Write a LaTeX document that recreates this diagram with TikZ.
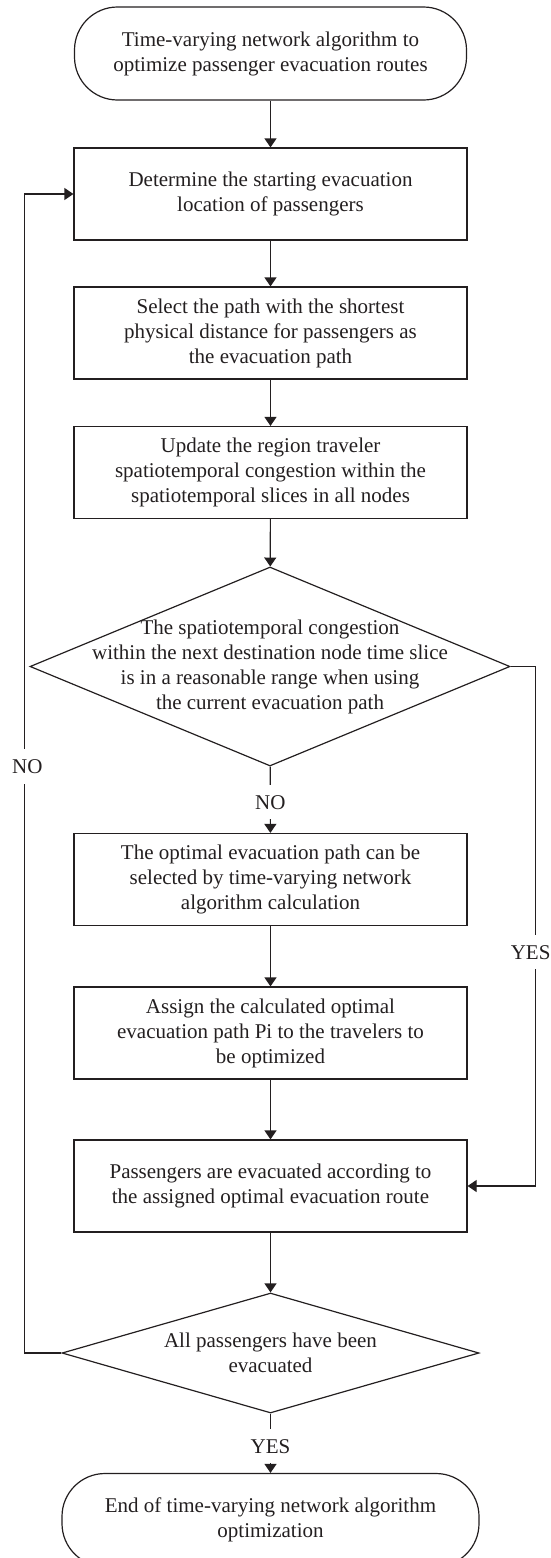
\documentclass[tikz,border=0pt]{standalone}
\usepackage{fontspec}
\setmainfont{Liberation Serif}
\usetikzlibrary{shapes.geometric,arrows.meta}
\definecolor{ink}{RGB}{35,31,32}
\begin{document}
\begin{tikzpicture}[x=1pt, y=-1pt, line width=1.2pt, draw=ink, text=ink,
    font=\fontsize{21}{25}\selectfont,
    term/.style={draw, rectangle, rounded corners=43pt, minimum height=93pt, align=center, inner sep=0pt},
    proc/.style={draw, rectangle, minimum width=393pt, minimum height=92pt, align=center, inner sep=2pt},
    decision/.style={draw, diamond, inner sep=0pt},
    lbl/.style={fill=white, inner xsep=2pt, inner ysep=10pt},
    flow/.style={-{Triangle[width=12pt,length=9pt]}}]
    \useasboundingbox (0,0) rectangle (551,1558);
    % steps
    \node[term, minimum width=392pt] (start) at (270.5,53.5) {Time-varying network algorithm to\\optimize passenger evacuation routes};
    \node[proc] (locate) at (270.5,194) {Determine the starting evacuation\\location of passengers};
    \node[proc] (shortest) at (270.5,333) {Select the path with the shortest\\physical distance for passengers as\\the evacuation path};
    \node[proc] (update) at (270.5,472.5) {Update the region traveler\\spatiotemporal congestion within the\\spatiotemporal slices in all nodes};
    \node[decision, minimum width=480pt, minimum height=199pt] (check) at (270,666.5) {};
    \node[align=center] (checktxt) at (check.center) {The spatiotemporal congestion\\within the next destination node time slice\\is in a reasonable range when using\\the current evacuation path};
    \node[proc] (optimal) at (270.5,879.5) {The optimal evacuation path can be\\selected by time-varying network\\algorithm calculation};
    \node[proc] (assign) at (270.5,1033) {Assign the calculated optimal\\evacuation path Pi to the travelers to\\be optimized};
    \node[proc] (evacuate) at (270.5,1186) {Passengers are evacuated according to\\the assigned optimal evacuation route};
    \node[decision, minimum width=417pt, minimum height=120pt] (alldone) at (270.5,1353) {};
    \node[align=center] (alldonetxt) at (alldone.center) {All passengers have been\\evacuated};
    \node[term, minimum width=417pt] (finish) at (270.5,1520) {End of time-varying network algorithm\\optimization};
    % connectors
    \draw[flow] (start) -- (locate);
    \draw[flow] (locate) -- (shortest);
    \draw[flow] (shortest) -- (update);
    \draw[flow] (update) -- (check);
    \draw[flow] (check) -- node[lbl, pos=0.54] {NO} (optimal);
    \draw[flow] (optimal) -- (assign);
    \draw[flow] (assign) -- (evacuate);
    \draw[flow] (check.east) -- ++(25,0) |- node[lbl, pos=0.275, xshift=-5pt] {YES} (evacuate.east);
    \draw[flow] (evacuate) -- (alldone);
    \draw[flow] (alldone) -- node[lbl, pos=0.55] {YES} (finish);
    \draw[flow] (alldone.west) -- ++(-37,0) |- node[lbl, pos=0.253, xshift=3pt] {NO} (locate.west);
\end{tikzpicture}
\end{document}
